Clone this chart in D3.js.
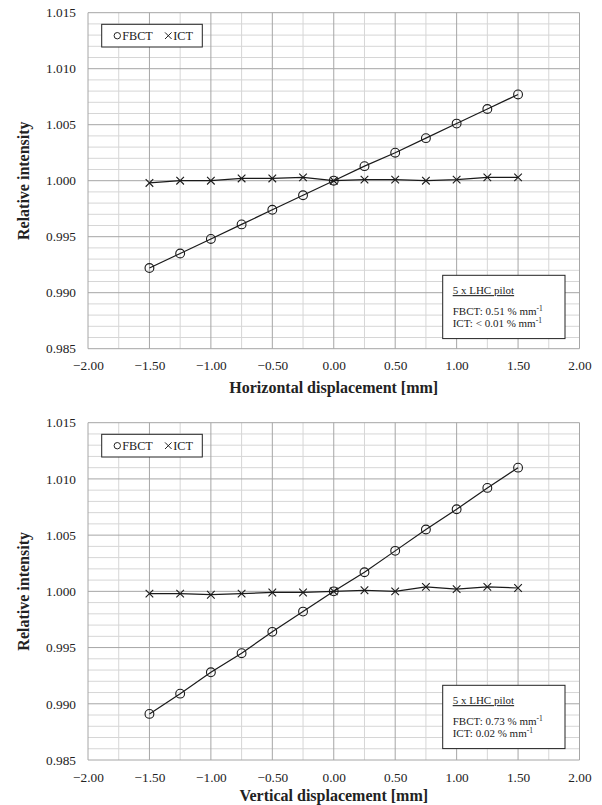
<!DOCTYPE html>
<html>
<head>
<meta charset="utf-8">
<script src="https://cdn.jsdelivr.net/npm/d3@7"></script>
<style>
  html, body { margin: 0; padding: 0; background: #fff; }
  svg { display: block; }
  text { font-family: "Liberation Serif", "Times New Roman", "DejaVu Serif", serif; fill: #222; }
</style>
</head>
<body>
<svg id="chart" width="602" height="805"></svg>
<script>
// ---- data ----
const displacements = [-1.5, -1.25, -1.0, -0.75, -0.5, -0.25, 0, 0.25, 0.5, 0.75, 1.0, 1.25, 1.5];
const horizFBCT = [0.9922, 0.9935, 0.9948, 0.9961, 0.9974, 0.9987, 1.0000, 1.0013, 1.0025, 1.0038, 1.0051, 1.0064, 1.0077];
const horizICT  = [0.9998, 1.0000, 1.0000, 1.0002, 1.0002, 1.0003, 1.0000, 1.0001, 1.0001, 1.0000, 1.0001, 1.0003, 1.0003];
const vertFBCT  = [0.9891, 0.9909, 0.9928, 0.9945, 0.9964, 0.9982, 1.0000, 1.0017, 1.0036, 1.0055, 1.0073, 1.0092, 1.0110];
const vertICT   = [0.9998, 0.9998, 0.9997, 0.9998, 0.9999, 0.9999, 1.0000, 1.0001, 1.0000, 1.0004, 1.0002, 1.0004, 1.0003];
const xTicks = [-2.0, -1.5, -1.0, -0.5, 0.0, 0.5, 1.0, 1.5, 2.0];
const xMinorTicks = [-1.75, -1.25, -0.75, -0.25, 0.25, 0.75, 1.25, 1.75];
const yTicks = [0.985, 0.990, 0.995, 1.000, 1.005, 1.010, 1.015];
const yMinorTicks = [0.986, 0.987, 0.988, 0.989, 0.991, 0.992, 0.993, 0.994, 0.996, 0.997, 0.998, 0.999,
                     1.001, 1.002, 1.003, 1.004, 1.006, 1.007, 1.008, 1.009, 1.011, 1.012, 1.013, 1.014];
const seriesNames = ["FBCT", "ICT"];
const yTitle = "Relative intensity";
const xTitles = ["Horizontal displacement [mm]", "Vertical displacement [mm]"];
const boxTitle = "5 x LHC pilot";
const slopesTop = ["FBCT: 0.51 % mm", "ICT: < 0.01 % mm"];
const slopesBottom = ["FBCT: 0.73 % mm", "ICT: 0.02 % mm"];

// ---- drawing ----
const svg = d3.select("#chart");
const left = 88, right = 579.5;
const serif = '"Liberation Serif", "Times New Roman", "DejaVu Serif", serif';

function drawPanel(top, bottom, fbct, ict, xTitle, slopes, titleOffset) {
  const x = d3.scaleLinear().domain([-2, 2]).range([left, right]);
  const y = d3.scaleLinear().domain([0.985, 1.015]).range([bottom, top]);
  const g = svg.append("g");

  // minor grid
  g.selectAll(".hmin").data(yMinorTicks).join("line")
    .attr("x1", left).attr("x2", right)
    .attr("y1", d => y(d)).attr("y2", d => y(d))
    .attr("stroke", "#d6d6d6").attr("stroke-width", 1);
  g.selectAll(".vmin").data(xMinorTicks).join("line")
    .attr("y1", top).attr("y2", bottom)
    .attr("x1", d => x(d)).attr("x2", d => x(d))
    .attr("stroke", "#d6d6d6").attr("stroke-width", 1);
  // major grid
  g.selectAll(".hmaj").data(yTicks).join("line")
    .attr("x1", left).attr("x2", right)
    .attr("y1", d => y(d)).attr("y2", d => y(d))
    .attr("stroke", "#a6a6a6").attr("stroke-width", 1);
  g.selectAll(".vmaj").data(xTicks).join("line")
    .attr("y1", top).attr("y2", bottom)
    .attr("x1", d => x(d)).attr("x2", d => x(d))
    .attr("stroke", "#a6a6a6").attr("stroke-width", 1);

  // axes labels
  const xAxis = d3.axisBottom(x).tickValues(xTicks).tickFormat(d3.format(".2f")).tickSize(0).tickPadding(12.3);
  const gx = g.append("g").attr("transform", `translate(0,${bottom})`).call(xAxis);
  gx.attr("font-family", serif);
  gx.select(".domain").remove();
  gx.selectAll("text").style("font-family", serif).style("font-size", "13.3px").attr("fill", "#222");

  const yAxis = d3.axisLeft(y).tickValues(yTicks).tickFormat(d3.format(".3f")).tickSize(0).tickPadding(12);
  const gy = g.append("g").attr("transform", `translate(${left},0)`).call(yAxis);
  gy.attr("font-family", serif);
  gy.select(".domain").remove();
  gy.selectAll("text").style("font-family", serif).style("font-size", "13.3px").attr("fill", "#222");

  // titles
  g.append("text").attr("x", (left + right) / 2).attr("y", bottom + titleOffset)
    .attr("text-anchor", "middle").style("font-size", "16px").style("font-weight", "bold")
    .text(xTitle);
  g.append("text").attr("transform", `translate(29,${(top + bottom) / 2}) rotate(-90)`)
    .attr("text-anchor", "middle").style("font-size", "16px").style("font-weight", "bold")
    .text(yTitle);

  // series
  const line = d3.line().x(d => x(d[0])).y(d => y(d[1]));
  const fData = displacements.map((d, i) => [d, fbct[i]]);
  const iData = displacements.map((d, i) => [d, ict[i]]);
  g.append("path").datum(iData).attr("d", line).attr("fill", "none").attr("stroke", "#1a1a1a").attr("stroke-width", 1.2);
  g.append("path").datum(fData).attr("d", line).attr("fill", "none").attr("stroke", "#1a1a1a").attr("stroke-width", 1.2);
  g.selectAll(".cross").data(iData).join("path")
    .attr("transform", d => `translate(${x(d[0])},${y(d[1])})`)
    .attr("d", "M-3.8,-3.8L3.8,3.8M-3.8,3.8L3.8,-3.8")
    .attr("stroke", "#1a1a1a").attr("stroke-width", 1.1).attr("fill", "none");
  g.selectAll(".circ").data(fData).join("circle")
    .attr("cx", d => x(d[0])).attr("cy", d => y(d[1])).attr("r", 4.4)
    .attr("fill", "none").attr("stroke", "#1a1a1a").attr("stroke-width", 1.1);

  // legend
  const lg = g.append("g").attr("transform", `translate(${left},${top})`);
  lg.append("rect").attr("x", 13.7).attr("y", 11.6).attr("width", 100.6).attr("height", 22.7)
    .attr("fill", "#fff").attr("stroke", "#222").attr("stroke-width", 1);
  lg.append("circle").attr("cx", 29.3).attr("cy", 23).attr("r", 3.2)
    .attr("fill", "none").attr("stroke", "#222").attr("stroke-width", 1);
  lg.append("text").attr("x", 34.3).attr("y", 27.2).style("font-size", "12.2px").text(seriesNames[0]);
  lg.append("path").attr("transform", "translate(80.3,23)")
    .attr("d", "M-3.3,-3.3L3.3,3.3M-3.3,3.3L3.3,-3.3").attr("stroke", "#222").attr("stroke-width", 1);
  lg.append("text").attr("x", 85.3).attr("y", 27.2).style("font-size", "12.2px").text(seriesNames[1]);

  // annotation box
  const bx = right - 136.8, by = top + 262.6;
  const ab = g.append("g").attr("transform", `translate(${bx},${by})`);
  ab.append("rect").attr("width", 122.3).attr("height", 63.3)
    .attr("fill", "#fff").attr("stroke", "#222").attr("stroke-width", 1);
  ab.append("text").attr("x", 10).attr("y", 18.8).style("font-size", "11px")
    .style("text-decoration", "underline").text(boxTitle);
  slopes.forEach((s, i) => {
    const t = ab.append("text").attr("x", 10).attr("y", 40 + i * 11.9).style("font-size", "11px");
    t.append("tspan").text(s);
    t.append("tspan").attr("dy", -4).style("font-size", "7.5px").text("-1");
  });
}

drawPanel(12.7, 348.7, horizFBCT, horizICT, xTitles[0], slopesTop, 44.6);
drawPanel(422.7, 760, vertFBCT, vertICT, xTitles[1], slopesBottom, 40.5);
</script>
</body>
</html>
